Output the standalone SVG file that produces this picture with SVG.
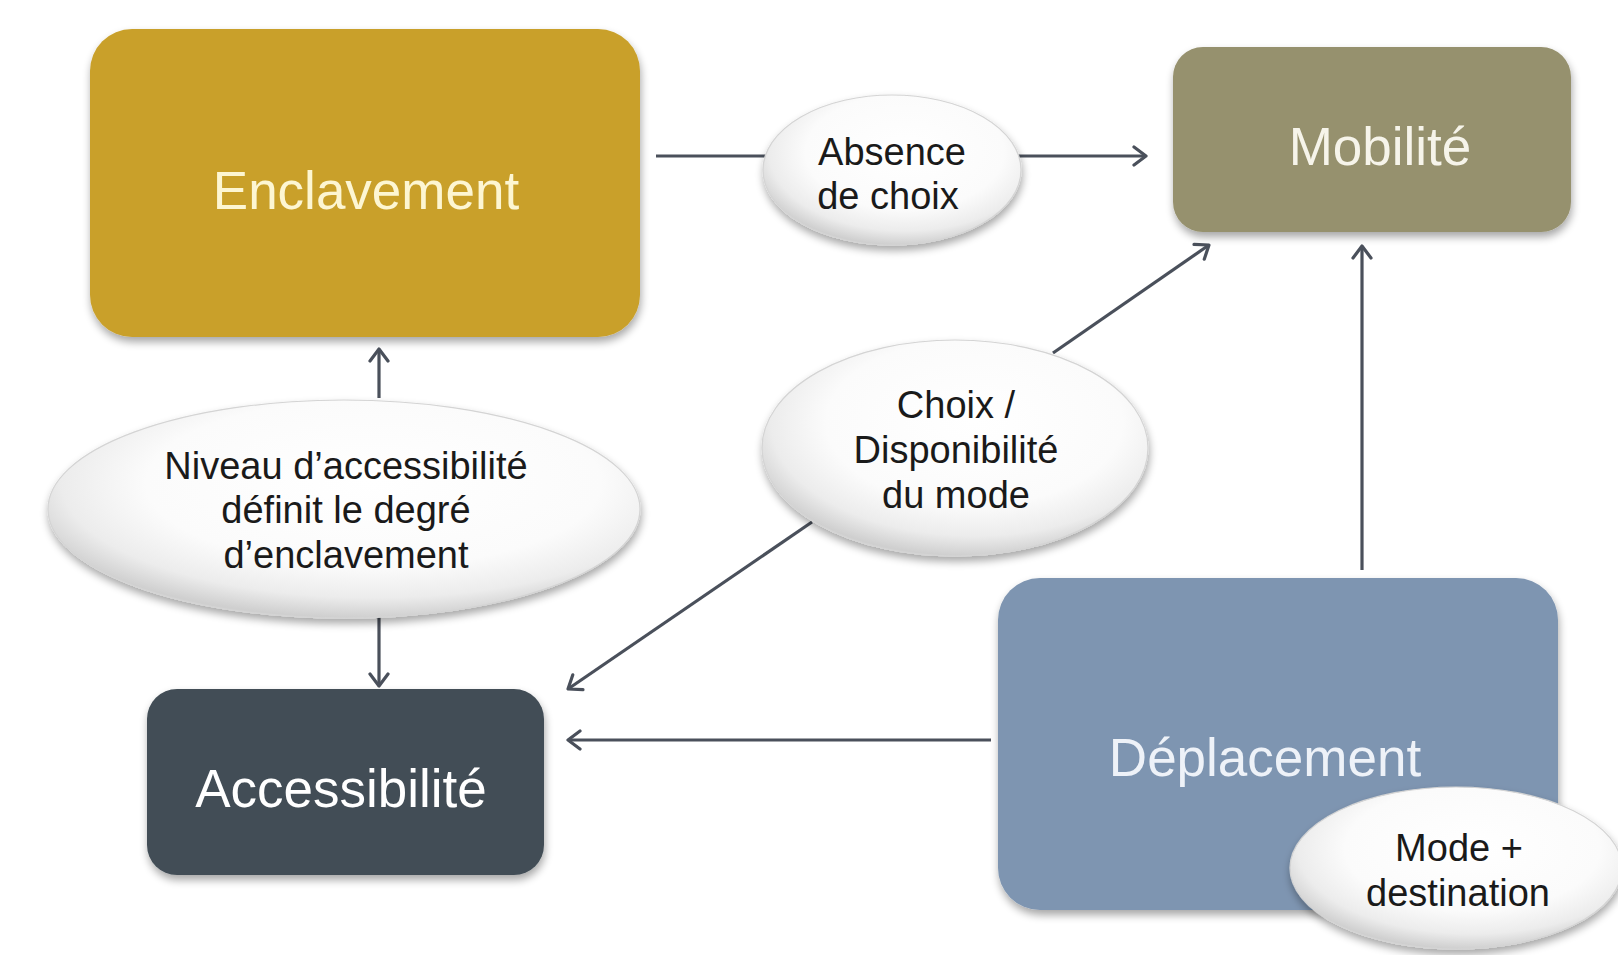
<svg xmlns="http://www.w3.org/2000/svg" width="1618" height="955" viewBox="0 0 1618 955">
  <style>
    .box-text { font-family: "Liberation Sans", Arial, sans-serif; font-size: 53px; text-anchor: middle; }
    .bubble-text { font-family: "Liberation Sans", Arial, sans-serif; font-size: 38px; text-anchor: middle; fill: #1a1a1a; }
    .bubble { fill: url(#bubbleFill); stroke: #d4d4d4; stroke-width: 1.2; filter: url(#softShadow); }
    .link { fill: none; stroke: #4a505b; stroke-width: 3.2; }
    .arrow { marker-end: url(#chevron); }
  </style>
  <defs>
    <filter id="softShadow" x="-10%" y="-10%" width="120%" height="130%">
      <feGaussianBlur in="SourceAlpha" stdDeviation="4"/>
      <feOffset dx="1" dy="5" result="blur"/>
      <feComponentTransfer><feFuncA type="linear" slope="0.35"/></feComponentTransfer>
      <feMerge><feMergeNode/><feMergeNode in="SourceGraphic"/></feMerge>
    </filter>
    <radialGradient id="bubbleFill" cx="55%" cy="38%" r="62%">
      <stop offset="0" stop-color="#ffffff"/>
      <stop offset="0.62" stop-color="#fbfbfb"/>
      <stop offset="0.85" stop-color="#ececec"/>
      <stop offset="1" stop-color="#cfcfcf"/>
    </radialGradient>
    <marker id="chevron" viewBox="0 0 16 22" refX="14" refY="11" markerWidth="16" markerHeight="22" markerUnits="userSpaceOnUse" orient="auto">
      <path d="M2,2 L14,11 L2,20" fill="none" stroke="#4a505b" stroke-width="3.2" stroke-linecap="round" stroke-linejoin="round"/>
    </marker>
  </defs>

  <rect width="1618" height="955" fill="#ffffff"/>

  <!-- connectors -->
  <g id="connectors">
    <line class="link" x1="656" y1="156" x2="780" y2="156"/>
    <line class="link arrow" x1="1000" y1="156" x2="1146" y2="156"/>
    <line class="link arrow" x1="379" y1="398" x2="379" y2="349"/>
    <line class="link arrow" x1="379" y1="617" x2="379" y2="686"/>
    <line class="link arrow" x1="1053" y1="353" x2="1209" y2="245"/>
    <line class="link arrow" x1="812" y1="522" x2="568" y2="689"/>
    <line class="link arrow" x1="1362" y1="570" x2="1362" y2="246"/>
    <line class="link arrow" x1="991" y1="740" x2="568" y2="740"/>
  </g>

  <!-- main boxes -->
  <g id="enclavement">
    <rect x="90" y="29" width="550" height="308" rx="42" fill="#c9a02c" filter="url(#softShadow)"/>
    <text class="box-text" x="366" y="209" fill="#fdf6d2">Enclavement</text>
  </g>

  <g id="mobilite">
    <rect x="1173" y="47" width="398" height="185" rx="30" fill="#96916e" filter="url(#softShadow)"/>
    <text class="box-text" x="1380" y="165" fill="#f6f4ea">Mobilité</text>
  </g>

  <g id="accessibilite">
    <rect x="147" y="689" width="397" height="186" rx="30" fill="#434e57" filter="url(#softShadow)"/>
    <text class="box-text" x="341" y="807" fill="#ffffff">Accessibilité</text>
  </g>

  <g id="deplacement">
    <rect x="998" y="578" width="560" height="332" rx="42" fill="#7e95b1" filter="url(#softShadow)"/>
    <text class="box-text" x="1265" y="776" fill="#eef2f8">Déplacement</text>
  </g>

  <!-- label bubbles -->
  <g id="absence-de-choix">
    <ellipse class="bubble" cx="892" cy="170" rx="129" ry="75"/>
    <text class="bubble-text" x="892" y="165">Absence</text>
    <text class="bubble-text" x="888" y="209">de choix</text>
  </g>

  <g id="niveau-accessibilite">
    <ellipse class="bubble" cx="344" cy="509" rx="296" ry="109"/>
    <text class="bubble-text" x="346" y="479">Niveau d’accessibilité</text>
    <text class="bubble-text" x="346" y="523">définit le degré</text>
    <text class="bubble-text" x="346" y="568">d’enclavement</text>
  </g>

  <g id="choix-mode">
    <ellipse class="bubble" cx="955" cy="448" rx="193" ry="108"/>
    <text class="bubble-text" x="956" y="418">Choix /</text>
    <text class="bubble-text" x="956" y="463">Disponibilité</text>
    <text class="bubble-text" x="956" y="508">du mode</text>
  </g>

  <g id="mode-destination">
    <ellipse class="bubble" cx="1456" cy="868" rx="166" ry="81"/>
    <text class="bubble-text" x="1459" y="861">Mode +</text>
    <text class="bubble-text" x="1458" y="906">destination</text>
  </g>
</svg>
